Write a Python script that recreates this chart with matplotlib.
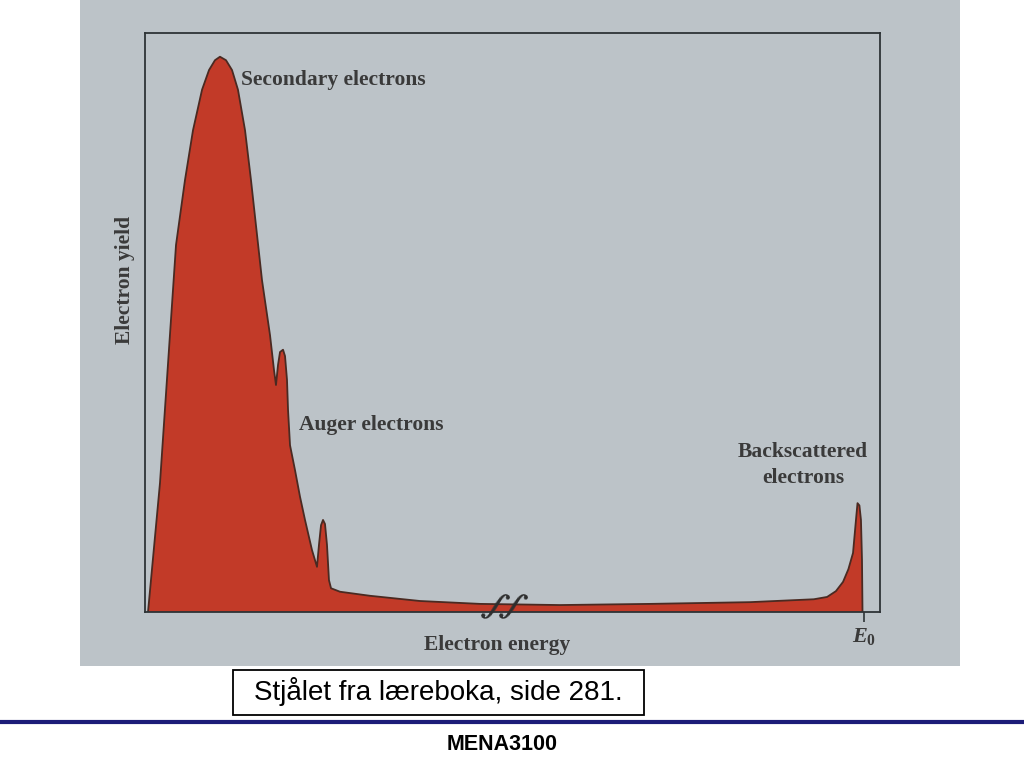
import matplotlib.pyplot as plt
from matplotlib.lines import Line2D
from matplotlib.patches import Rectangle

plt.rcParams['mathtext.fontset'] = 'custom'
plt.rcParams['mathtext.it'] = 'Liberation Serif:italic:bold'
plt.rcParams['mathtext.rm'] = 'Liberation Serif:bold'

# read-off points of the electron yield curve (energy, yield), arbitrary units 0..100
energy = [0.41, 2.04, 4.22, 5.44, 6.53, 7.76, 8.71, 9.52, 10.20, 11.02, 11.84, 12.65,
          13.61, 14.42, 15.92, 17.01, 17.55, 17.82, 18.10, 18.37, 18.78, 19.05, 19.32,
          19.46, 19.73, 20.41, 21.09, 21.77, 22.72, 23.40, 23.67, 23.95, 24.22, 24.49,
          24.76, 25.03, 25.31, 26.53, 30.61, 37.41, 45.58, 56.46, 68.71, 82.31, 91.00,
          92.80, 94.00, 94.97, 95.70, 96.33, 96.73, 96.94, 97.20, 97.41, 97.55, 97.62]
yield_ = [0.0, 22.3, 63.4, 74.6, 83.2, 90.2, 93.6, 95.3, 95.9, 95.3, 93.6, 90.2,
          83.2, 74.6, 57.3, 47.8, 41.8, 39.2, 42.7, 44.9, 45.3, 44.2, 40.1,
          34.9, 28.8, 24.5, 19.9, 15.9, 10.7, 7.8, 11.6, 15.0, 15.9, 15.2,
          11.6, 5.5, 4.1, 3.5, 2.8, 1.9, 1.4, 1.2, 1.4, 1.7, 2.2,
          2.6, 3.6, 5.2, 7.4, 10.2, 15.9, 18.8, 18.4, 15.9, 9.0, 0.0]
E0 = 97.8
break_marks = [47.5, 50.0]

photo_bg = '#bcc3c8'
red = '#c23a28'
ink = '#3a3a3a'

fig = plt.figure(figsize=(10.24, 7.68), dpi=100)
W, H = 1024, 768

bg = fig.add_axes([80 / W, (H - 666) / H, 880 / W, 666 / H])
bg.set_facecolor(photo_bg)
bg.set_xticks([])
bg.set_yticks([])
for s in bg.spines.values():
    s.set_visible(False)

ax = fig.add_axes([145 / W, (H - 612) / H, 735 / W, 579 / H])
ax.set_facecolor(photo_bg)
ax.fill(energy, yield_, color=red, lw=0)
ax.plot(energy, yield_, color='#4a2a22', lw=1.3)
ax.set_xlim(0, 100)
ax.set_ylim(0, 100)
for s in ax.spines.values():
    s.set_color('#2e3336')
    s.set_linewidth(1.3)
ax.set_yticks([])
ax.set_xticks([E0])
ax.set_xticklabels([r'$E_{\mathrm{0}}$'])
ax.tick_params(axis='x', direction='out', length=7, width=1.2, color='#2e3336',
               labelsize=16, labelcolor=ink, pad=3)

# axis break marks
for bx in break_marks:
    ax.text(bx, 1.0, '∫', ha='center', va='center', fontsize=25,
            family='DejaVu Serif', rotation=-30, color='#2e2e2e')

serif = dict(family='Liberation Serif', fontweight='bold', color=ink, fontsize=15.5)
ax.text(13.0, 91.8, 'Secondary electrons', ha='left', va='center', **serif)
ax.text(21.0, 32.3, 'Auger electrons', ha='left', va='center', **serif)
ax.text(89.5, 25.4, 'Backscattered\nelectrons', ha='center', va='center',
        linespacing=1.4, **serif)
ax.set_xlabel('Electron energy', **serif)
ax.xaxis.set_label_coords(0.479, -0.057)
ax.xaxis.label.set_va('center')
ax.set_ylabel('Electron yield', **serif)
ax.yaxis.set_label_coords(-0.027, 0.573)
ax.yaxis.label.set_va('center')

fig.add_artist(Rectangle((233 / W, 1 - 715 / H), 411 / W, 45 / H, transform=fig.transFigure,
                         fc='white', ec='black', lw=1.3))
fig.text(438.5 / W, 1 - 692 / H, 'Stjålet fra læreboka, side 281.', ha='center',
         va='center', fontsize=20, family='Liberation Sans', color='black')

fig.add_artist(Line2D([0, 1], [1 - 722 / H, 1 - 722 / H], transform=fig.transFigure,
                      color='#1c1c78', lw=3))
fig.text(502 / W, 1 - 745 / H, 'MENA3100', ha='center', va='center', fontsize=15.5,
         fontweight='bold', family='Liberation Sans')

fig.savefig('out.png', dpi=100, facecolor='white')
